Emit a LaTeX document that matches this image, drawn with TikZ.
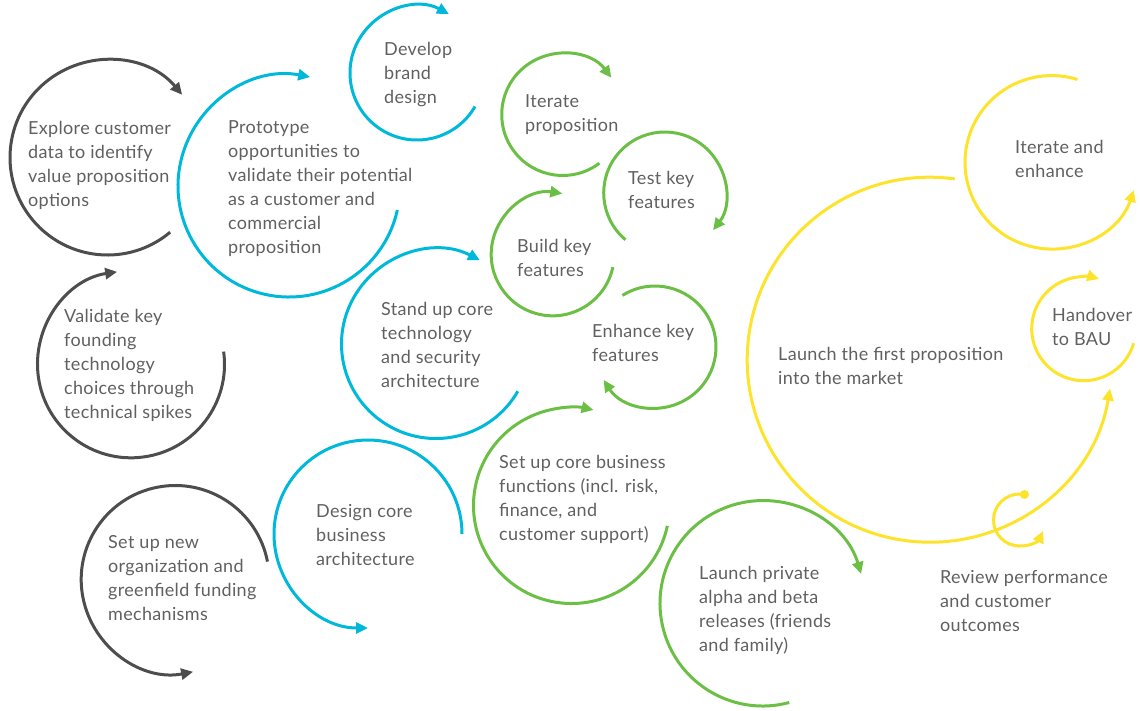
\documentclass[tikz,border=0pt]{standalone}
\usepackage{fontspec}
\setmainfont{Lato}[LetterSpace=1.8]
\usetikzlibrary{arrows.meta}
\definecolor{cgray}{HTML}{4D4D4D}
\definecolor{cblue}{HTML}{00B8D9}
\definecolor{cgreen}{HTML}{6CBF45}
\definecolor{cyellow}{HTML}{FDE32B}
\definecolor{ctext}{HTML}{606060}
\tikzset{
  loop/.style={line width=3pt, -{Triangle[length=12pt,width=11pt]}},
  grayloop/.style={loop, draw=cgray, cgray},
  blueloop/.style={loop, draw=cblue, cblue},
  greenloop/.style={loop, draw=cgreen, cgreen},
  yellowloop/.style={loop, draw=cyellow, cyellow},
  lbl/.style={anchor=north west, inner sep=0pt, align=left, text=ctext,
    font=\fontsize{18}{24}\selectfont},
}
% arc: center x, center y (screen), radius, start, end (screen angles, clockwise)
\newcommand{\loopArc}[6]{%
  \draw[#1] (#2,-#3) ++(-#5:#4) arc[start angle=-#5, end angle=-#6, radius=#4];}
\begin{document}
\begin{tikzpicture}[x=1pt,y=1pt]
\useasboundingbox (0,0) rectangle (1140,-710);
% gray
\loopArc{grayloop}{107.5}{157.5}{97.5}{50}{320}
\loopArc{grayloop}{131}{364.3}{93.5}{352.2}{621.5}
\loopArc{grayloop}{175.2}{579.5}{94}{349}{79}
% blue
\loopArc{blueloop}{289}{186}{111}{12.5}{281}
\loopArc{blueloop}{417}{73}{67}{30}{298.5}
\loopArc{blueloop}{436}{344}{94.5}{30}{297.7}
\loopArc{blueloop}{368}{534}{94}{360}{90}
% green
\loopArc{greenloop}{562.7}{114.5}{61}{53}{323}
\loopArc{greenloop}{664.7}{193}{61}{130}{397.6}
\loopArc{greenloop}{552.7}{254.3}{61.5}{12}{279}
\loopArc{greenloop}{655}{347}{61}{237.7}{507.4}
\loopArc{greenloop}{571.5}{505.5}{98}{12}{283}
\loopArc{greenloop}{762.7}{603.3}{102.7}{75}{343.4}
% yellow
\loopArc{yellowloop}{929.7}{359.7}{182.5}{277.9}{9.1}
\loopArc{yellowloop}{1051.7}{162.3}{86.7}{287.3}{18.6}
\loopArc{yellowloop}{1083.7}{328.7}{52}{16.2}{287.2}
\loopArc{yellowloop}{1019.5}{520}{26}{281}{24.6}
\fill[cyellow] (1019.5,-520) ++(-281:26) circle[radius=4.5];
% labels
\node[lbl] (explore) at (28,-121) {Explore customer\\data to identify\\value proposition\\options};
\node[lbl] (proto) at (228,-120) {Prototype\\opportunities to\\validate their potential\\as a customer and\\commercial\\proposition};
\node[lbl] (develop) at (384,-42) {Develop\\brand\\design};
\node[lbl] (iterprop) at (525,-94) {Iterate\\proposition};
\node[lbl] (testkey) at (628,-171) {Test key\\features};
\node[lbl] (buildkey) at (517,-239) {Build key\\features};
\node[lbl] (standup) at (381,-302) {Stand up core\\technology\\and security\\architecture};
\node[lbl] (enhance) at (592,-324) {Enhance key\\features};
\node[lbl] (validate) at (64,-309) {Validate key\\founding\\technology\\choices through\\technical spikes};
\node[lbl] (setupbiz) at (499,-455) {Set up core business\\functions (incl. risk,\\finance, and\\customer support)};
\node[lbl] (design) at (316,-504) {Design core\\business\\architecture};
\node[lbl] (setupnew) at (108,-535) {Set up new\\organization and\\greenfield funding\\mechanisms};
\node[lbl] (launchpriv) at (699,-566) {Launch private\\alpha and beta\\releases (friends\\and family)};
\node[lbl] (launchfirst) at (778,-347) {Launch the first proposition\\into the market};
\node[lbl] (iterenh) at (1015,-140) {Iterate and\\enhance};
\node[lbl] (handover) at (1052,-308) {Handover\\to BAU};
\node[lbl] (review) at (940,-570) {Review performance\\and customer\\outcomes};
\end{tikzpicture}
\end{document}
